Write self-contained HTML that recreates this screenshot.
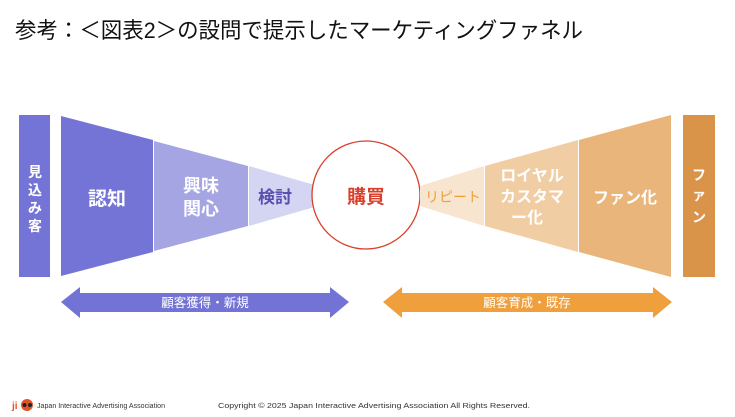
<!DOCTYPE html>
<html><head><meta charset="utf-8"><style>
body{margin:0;width:735px;height:417px;background:#fff;overflow:hidden;font-family:"Liberation Sans","Noto Sans CJK JP",sans-serif}
</style></head><body>
<svg width="735" height="417" viewBox="0 0 735 417" xmlns="http://www.w3.org/2000/svg" style="position:absolute;left:0;top:0;font-family:'Liberation Sans','Noto Sans CJK JP',sans-serif">
<text x="15" y="38" font-size="22" fill="#111" textLength="568" lengthAdjust="spacingAndGlyphs">参考：＜図表2＞の設問で提示したマーケティングファネル</text>
<rect x="19" y="115" width="31" height="162" fill="#7474d6"/>
<polygon points="61,116 153,140 153,252 61,276" fill="#7474d6"/>
<polygon points="154,141 248,166 248,226 154,251" fill="#a5a5e3"/>
<polygon points="249,166 318,186 318,206 249,226" fill="#d4d4f3"/>
<circle cx="366" cy="195" r="54" fill="#fff" stroke="#d9402b" stroke-width="1.3"/>
<polygon points="420,186 484,166 484,226 420,206" fill="#f8e5cf"/>
<polygon points="485,166 578,140 578,252 485,226" fill="#f1cda4"/>
<polygon points="579,140 671,115 671,277 579,252" fill="#eab57a"/>
<rect x="683" y="115" width="32" height="162" fill="#d9944a"/>
<g font-weight="bold" fill="#fff" text-anchor="middle">
<text x="35" y="177" font-size="14">見</text><text x="35" y="195" font-size="14">込</text><text x="35" y="213" font-size="14">み</text><text x="35" y="231" font-size="14">客</text>
<text x="107" y="205" font-size="19">認知</text>
<text x="201" y="192" font-size="18">興味</text><text x="201" y="215" font-size="18">関心</text>
<text x="275" y="203" font-size="17" fill="#5a4fae">検討</text>
<text x="366" y="203" font-size="19" fill="#d9402b">購買</text>
<text x="453" y="202" font-size="14" fill="#ef9f3c" font-weight="normal">リピート</text>
<text x="532" y="181" font-size="16">ロイヤル</text><text x="532" y="202" font-size="16">カスタマ</text><text x="511" y="223" font-size="16" text-anchor="start">ー化</text>
<text x="625" y="203" font-size="16">ファン化</text>
<text x="699" y="180" font-size="14">フ</text><text x="699" y="200" font-size="14">ァ</text><text x="699" y="222" font-size="14">ン</text>
</g>
<polygon points="61,302 80,287 80,293 330,293 330,287 349,302 330,318 330,312 80,312 80,318" fill="#7373d6"/>
<text x="205" y="307" font-size="12.5" fill="#fff" text-anchor="middle">顧客獲得・新規</text>
<polygon points="383,302 402,287 402,293 653,293 653,287 672,302 653,318 653,312 402,312 402,318" fill="#ef9f3c"/>
<text x="527" y="307" font-size="12.5" fill="#fff" text-anchor="middle">顧客育成・既存</text>
<text x="12" y="409" font-size="10" fill="#e0542a" font-weight="bold">ji</text>
<circle cx="27" cy="405" r="6" fill="#e0542a"/><circle cx="24.5" cy="405" r="2" fill="#222"/><circle cx="30" cy="405" r="2" fill="#222"/>
<text x="37" y="408" font-size="7" fill="#333" textLength="128" lengthAdjust="spacingAndGlyphs">Japan Interactive Advertising Association</text>
<text x="218" y="408" font-size="7.5" fill="#333" textLength="312" lengthAdjust="spacingAndGlyphs">Copyright © 2025 Japan Interactive Advertising Association All Rights Reserved.</text>
</svg>
</body></html>
